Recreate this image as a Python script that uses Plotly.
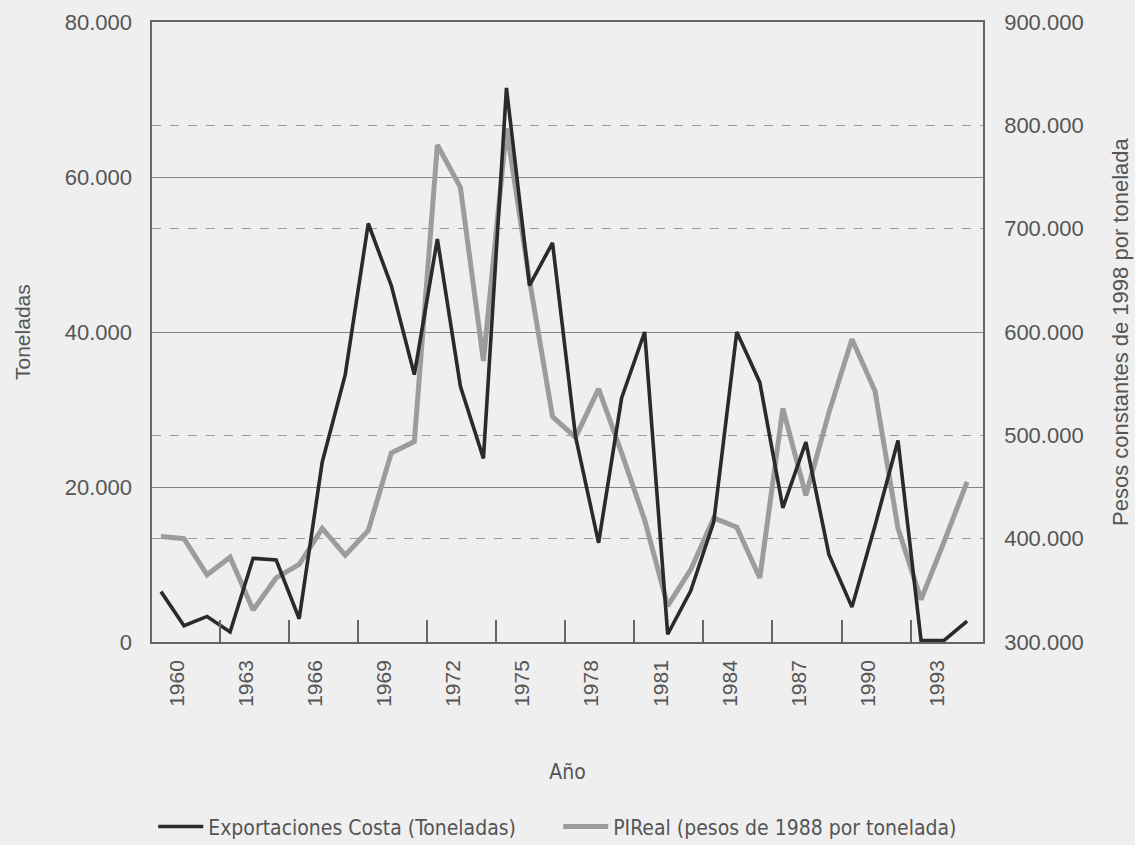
import plotly.graph_objects as go

# Serie anual 1960-1995
years = list(range(1960, 1996))
exportaciones = [6500, 2100, 3300, 1300, 10800, 10600, 3000, 23200, 34500, 54000,
                 46000, 34500, 52000, 33000, 23700, 71500, 46000, 51500, 26500, 12800,
                 31500, 40000, 1000, 6600, 15500, 40000, 33500, 17300, 25800, 11300,
                 4500, 15000, 26000, 200, 200, 2700]
precio_real = [402000, 400000, 365000, 382000, 331000, 362000, 375000, 410000, 384000, 408000,
               483000, 494000, 781000, 740000, 572000, 797000, 650000, 518000, 498000, 545000,
               483000, 418000, 335000, 370000, 420000, 411000, 362000, 526000, 442000, 522000,
               593000, 543000, 410000, 341000, 397000, 455000]
tick_years = [1960, 1963, 1966, 1969, 1972, 1975, 1978, 1981, 1984, 1987, 1990, 1993]
left_ticks = [0, 20000, 40000, 60000, 80000]
right_ticks = [300000, 400000, 500000, 600000, 700000, 800000, 900000]

BG = '#efefef'
TXT = '#555555'
NARROW = 'DejaVu Sans Condensed, Liberation Sans, Arial, sans-serif'
REG = 'Liberation Sans, Arial, sans-serif'

fig = go.Figure()

# gray series on the main (right) axis so the black one sits on top
fig.add_trace(go.Scatter(
    x=years, y=precio_real,
    name='PIReal (pesos de 1988 por tonelada)',
    mode='lines', yaxis='y',
    line=dict(color='#9c9c9c', width=5),
    legendrank=2,
))
fig.add_trace(go.Scatter(
    x=years, y=exportaciones,
    name='Exportaciones Costa (Toneladas)',
    mode='lines', yaxis='y2',
    line=dict(color='#2a2a2a', width=3.6),
    legendrank=1,
))

# axis titles as rotated annotations (more predictable with the overlaid axis)
fig.add_annotation(
    text='Toneladas', textangle=-90,
    xref='paper', yref='paper', x=0, y=0.5, xshift=-130,
    xanchor='center', yanchor='middle', showarrow=False,
    font=dict(family=REG, size=21, color=TXT),
)
fig.add_annotation(
    text='Pesos constantes de 1998 por tonelada', textangle=-90,
    xref='paper', yref='paper', x=1, y=0.5, xshift=137,
    xanchor='center', yanchor='middle', showarrow=False,
    font=dict(family=REG, size=22, color=TXT),
)

fig.update_layout(
    width=1135, height=845,
    paper_bgcolor=BG, plot_bgcolor=BG,
    separators=',.',
    margin=dict(l=152, r=152, t=22, b=203, autoexpand=False),
    xaxis=dict(
        range=[1959.61, 1995.69],
        tickmode='array',
        tickvals=[y + 0.7 for y in tick_years],
        ticktext=[str(y) for y in tick_years],
        tickangle=-90,
        ticks='',
        ticklabelstandoff=8,
        tickfont=dict(family=REG, size=21, color=TXT),
        minor=dict(tickmode='array', tickvals=[y - 0.45 for y in tick_years],
                   ticks='inside', ticklen=22, tickwidth=1.5, tickcolor='#666666',
                   showgrid=False),
        showgrid=False, zeroline=False,
        showline=True, mirror=True, linecolor='#666666', linewidth=1.5,
        title=dict(text='Año', standoff=58,
                   font=dict(family=NARROW, size=21, color=TXT)),
    ),
    yaxis=dict(
        side='right',
        range=[300000, 900000],
        tickmode='array', tickvals=right_ticks,
        tickformat=',d',
        ticks='', ticklabelstandoff=15,
        tickfont=dict(family=REG, size=22, color=TXT),
        showgrid=True, griddash='dash', gridcolor='#9a9a9a', gridwidth=1,
        zeroline=False,
        showline=True, mirror=True, linecolor='#666666', linewidth=1.5,
    ),
    yaxis2=dict(
        overlaying='y', side='left',
        range=[0, 80000],
        tickmode='array', tickvals=left_ticks,
        tickformat=',d',
        ticks='', ticklabelstandoff=19,
        tickfont=dict(family=REG, size=22, color=TXT),
        showgrid=True, gridcolor='#858585', gridwidth=1,
        zeroline=False,
    ),
    legend=dict(
        orientation='h',
        xref='container', x=0.135, xanchor='left',
        y=-0.265, yanchor='top',
        itemwidth=45,
        entrywidth=345, entrywidthmode='pixels',
        traceorder='normal',
        bgcolor='rgba(0,0,0,0)',
        font=dict(family=NARROW, size=21, color=TXT),
    ),
    showlegend=True,
)

fig.write_html("out.html", config={'displayModeBar': False},
               post_script="document.body.style.margin='0px';")
